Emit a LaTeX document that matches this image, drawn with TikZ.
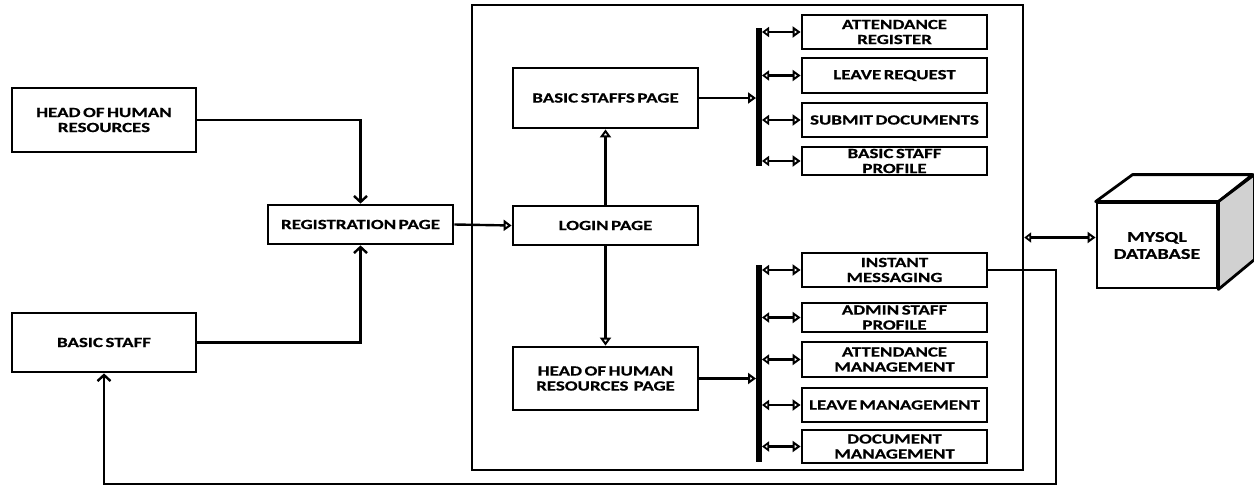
\documentclass[tikz,border=0pt]{standalone}
\usepackage{fontspec}
\newfontfamily\lblfont[FakeStretch=1.35,WordSpace={0.6},FakeBold=0.6]{Carlito}
\usetikzlibrary{arrows.meta}
\tikzset{
  box/.style={draw=black, line width=2.8pt, fill=white, align=center, inner sep=1pt,
    font=\lblfont\bfseries\fontsize{14}{15}\selectfont, minimum width=#1},
  box/.default=185pt,
  conn/.style={line width=2.4pt},
  tri/.style={conn, -{Triangle[open, length=8pt, width=11pt, line width=2pt]}},
  tritri/.style={conn, {Triangle[open, length=7pt, width=10pt, line width=2pt]}-{Triangle[open, length=8pt, width=11pt, line width=2pt]}},
  stick/.style={conn, -{Straight Barb[length=6pt, width=13pt, line width=2.4pt]}},
  bus/.style={line width=6pt}
}
\begin{document}
\begin{tikzpicture}[x=1pt,y=-1pt]
\useasboundingbox (0,0) rectangle (1254,488);
% system container
\node[draw, line width=2.4pt, minimum width=551pt, minimum height=465pt, inner sep=0pt] (sys) at (747.5,237.5) {};
% left actors
\node[box=184pt, minimum height=64pt] (hohr) at (104,120) {HEAD OF HUMAN\\RESOURCES};
\node[box=184pt, minimum height=59pt] (bstaff) at (104,342.5) {BASIC STAFF};
\node[box, minimum height=39pt] (reg) at (360.5,224.5) {REGISTRATION PAGE};
% pages
\node[box, minimum height=39pt] (login) at (605.5,225.5) {LOGIN PAGE};
\node[box, minimum height=60pt] (bsp) at (605.5,98) {BASIC STAFFS PAGE};
\node[box, minimum height=63pt] (hrp) at (605.5,378.5) {HEAD OF HUMAN\\RESOURCES\ \ PAGE};
% upper modules
\node[box, minimum height=34pt] (ar) at (894.5,32) {ATTENDANCE\\REGISTER};
\node[box, minimum height=35pt] (lr) at (894.5,75.5) {LEAVE REQUEST};
\node[box, minimum height=34pt] (sd) at (894.5,120) {SUBMIT DOCUMENTS};
\node[box, minimum height=28pt] (bsp2) at (894.5,161) {BASIC STAFF\\PROFILE};
% lower modules
\node[box, minimum height=34pt] (im) at (894.5,270) {INSTANT\\MESSAGING};
\node[box, minimum height=29pt] (asp) at (894.5,317.5) {ADMIN STAFF\\PROFILE};
\node[box, minimum height=35pt] (am) at (894.5,359.5) {ATTENDANCE\\MANAGEMENT};
\node[box, minimum height=34pt] (lm) at (894.5,405) {LEAVE MANAGEMENT};
\node[box, minimum height=33pt] (dm) at (894.5,446.5) {DOCUMENT\\MANAGEMENT};
% buses
\coordinate (b1t) at (759,28);
\coordinate (b1b) at (759,166);
\coordinate (b2t) at (759,265);
\coordinate (b2b) at (759,462);
\draw[bus] (b1t) -- (b1b);
\draw[bus] (b2t) -- (b2b);
% database cube
\node[box=120pt, minimum height=85pt, font=\lblfont\bfseries\fontsize{15}{17}\selectfont] (db) at (1157,245.5) {MYSQL\\DATABASE};
\draw[line width=2.8pt, fill=white, line join=round] (db.north west) -- ++(37,-27) -- ++(120,0) -- (db.north east) -- cycle;
\draw[line width=2.8pt, fill=black!18, line join=round] (db.north east) -- ++(36,-27) -- ++(0,85) -- (db.south east) -- cycle;
% connectors left
\draw[stick] (hohr.east) -| (reg.north);
\draw[stick] (bstaff.east) -| (reg.south);
\draw[tri] (reg.east) -- (login.west);
\draw[tri] (login.north) -- (bsp.south);
\draw[tri] (login.south) -- (hrp.north);
% to buses
\draw[tri] (bsp.east) -- ([xshift=-3pt]bsp.east -| b1t);
\draw[tri] (hrp.east) -- ([xshift=-3pt]hrp.east -| b2t);
\foreach \n in {ar,lr,sd,bsp2}{
  \draw[tritri] ([xshift=3pt]\n.west -| b1t) -- (\n.west);
}
\foreach \n in {im,asp,am,lm,dm}{
  \draw[tritri] ([xshift=3pt]\n.west -| b2t) -- (\n.west);
}
% database link
\draw[tritri] (sys.east) -- (sys.east -| db.west);
% feedback from instant messaging
\coordinate (c1) at (1056,484);
\draw[stick] (im.east) -| (c1) -| (bstaff.south);
\end{tikzpicture}
\end{document}
